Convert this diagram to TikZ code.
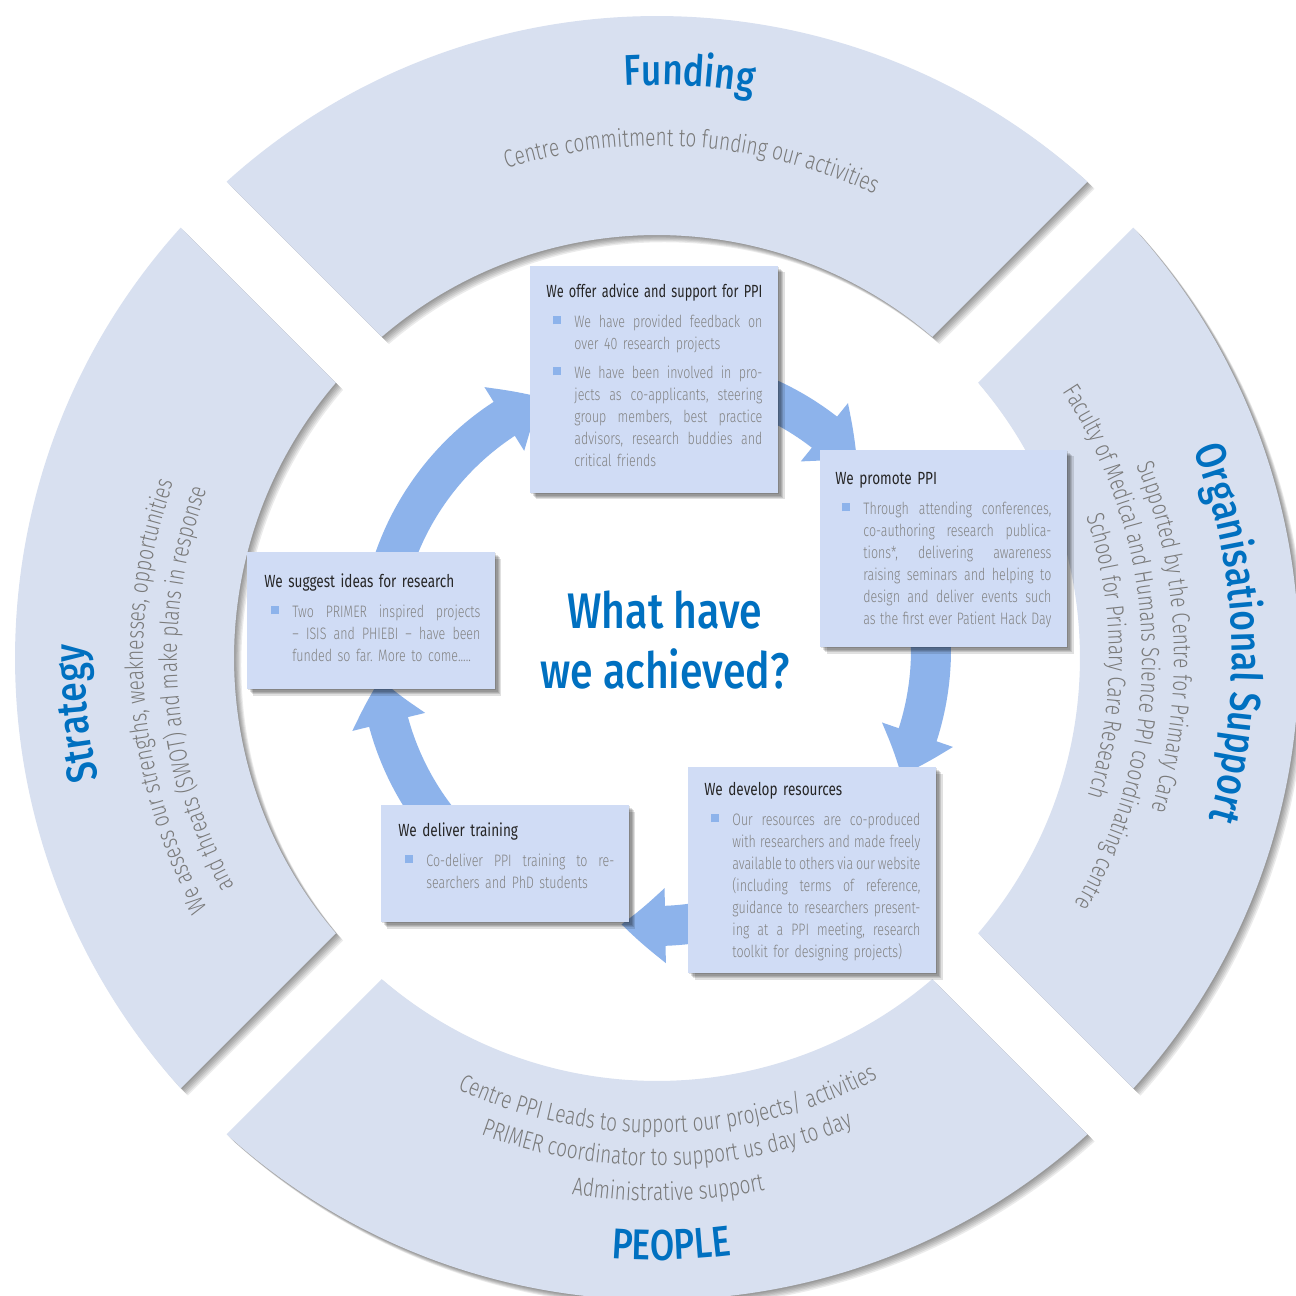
\documentclass[tikz,border=0pt]{standalone}
\usepackage{fontspec}
\usetikzlibrary{decorations.text,arrows.meta,bending,fit,calc}

\IfFontExistsTF{Fira Sans Light}{%
  \newfontfamily\lightf{Fira Sans Light}[FakeStretch=0.76]%
  \newfontfamily\bodyf{Fira Sans Light}[FakeStretch=0.75]%
}{%
  \newfontfamily\lightf{Fira Sans}[FakeStretch=0.76]%
  \newfontfamily\bodyf{Fira Sans}[FakeStretch=0.75]%
}
\IfFontExistsTF{Fira Sans Medium}{%
  \newfontfamily\titlef{Fira Sans Medium}[FakeStretch=0.82]%
}{%
  \newfontfamily\titlef{Fira Sans}[FakeStretch=0.82]%
}
\newfontfamily\headf{Fira Sans}[FakeStretch=0.77]

\definecolor{segc}{HTML}{D8E0F0}
\definecolor{boxc}{HTML}{D0DCF5}
\definecolor{arrc}{HTML}{8DB3EB}
\definecolor{titlec}{HTML}{0070C0}
\definecolor{subc}{HTML}{7A7A7A}
\definecolor{bodyc}{HTML}{828282}
\definecolor{headc}{HTML}{262626}

\newcommand\titlefs{\titlef\fontsize{21.5}{26}\selectfont}
\newcommand\subfs{\lightf\fontsize{12.5}{14}\selectfont}
\newcommand\headfs{\headf\fontsize{8.8}{11}\selectfont\color{headc}}
\newcommand\bodyfs{\bodyf\fontsize{8.3}{11}\selectfont\frenchspacing}
\newcommand\centerfs{\titlef\fontsize{25}{30}\selectfont}

\newcommand\J[1]{\hbox to 94pt{\spaceskip=0.22em plus 1fil minus 0.12em\relax #1}}
\newcommand\bul{\hspace*{3.5pt}\makebox[10.5pt][l]{\raisebox{1.5pt}{\textcolor{arrc}{\rule{4pt}{4pt}}}}}
\newcommand\ind{\hspace*{14pt}}
\newcommand\hd[1]{{\headfs\rule{0pt}{7pt}#1}}

\tikzset{
  segshape/.style={insert path={({#1-42.1}:642) arc[start angle={#1-42.1}, end angle={#1+42.1}, radius=642]
      -- ({#1+40.6}:423) arc[start angle={#1+40.6}, end angle={#1-40.6}, radius=423] -- cycle}},
  boxst/.style={fill=boxc, inner sep=0pt, draw=none},
  txtst/.style={inner sep=0pt, anchor=north west, text width=140pt, align=left, font=\bodyfs, text=bodyc},
  ringarrow/.style={line width=20pt, draw=arrc, -{Triangle[width=36pt,length=22pt,bend]}},
}

% #1 radius, #2 centre angle, #3 half span (positive: clockwise), #4 font, #5 colour, #6 text
\newcommand\arctext[6]{%
  \path[decorate, decoration={text along path, text={|#4|#6}, text align=center, text color=#5}]
    ({#2+(#3)}:#1) arc[start angle={#2+(#3)}, end angle={#2-(#3)}, radius=#1];
}

% #1 name, #2 left, #3 top, #4 right, #5 bottom
\newcommand\shadowbox[5]{%
  \foreach \k in {1,...,5}{\fill[black,opacity=0.12] ({#2+\k*1.3},{#5-\k*1.3}) rectangle ({#4+\k*1.3},{#3-\k*1.3});}
  \node[boxst, fit={(#2,#3) (#4,#5)}] (#1) {};
}

\begin{document}
\begin{tikzpicture}[x=0.5pt,y=0.5pt]
\useasboundingbox (-657,-638) rectangle (639,658);
\fill[white] (-657,-638) rectangle (639,658);

% ring segments
\foreach \a in {90,0,-90,180}{%
  \foreach \k in {1,...,6}{%
    \begin{scope}[shift={(\k*1.2,-\k*1.2)}]
      \fill[black,opacity=0.08,segshape=\a];
    \end{scope}}
  \fill[segc,segshape=\a];
}

% curved texts
\arctext{573}{86.8}{30}{\titlefs}{titlec}{Funding}
\arctext{512}{86}{45}{\subfs}{subc}{Centre commitment to funding our activities}
\arctext{575}{2.5}{45}{\titlefs}{titlec}{Organisational Support}
\arctext{517}{2.4}{45}{\subfs}{subc}{Supported by the Centre for Primary Care}
\arctext{485}{1.4}{50}{\subfs}{subc}{Faculty of Medical and Humans Science PPI coordinating centre}
\arctext{452}{0.3}{45}{\subfs}{subc}{School for Primary Care Research}
\arctext{475}{271.4}{-40}{\subfs}{subc}{Centre PPI Leads to support our projects/ activities}
\arctext{508}{271.2}{-40}{\subfs}{subc}{PRIMER coordinator to support us day to day}
\arctext{543}{271.2}{-30}{\subfs}{subc}{Administrative support}
\arctext{602}{271.4}{-20}{\titlefs}{titlec}{PEOPLE}
\arctext{572}{185.5}{30}{\titlefs}{titlec}{Strategy}
\arctext{514}{184.6}{45}{\subfs}{subc}{We assess our strengths, weaknesses, opportunities}
\arctext{480}{184}{45}{\subfs}{subc}{and threats (SWOT) and make plans in response}

% cycle arrows
\coordinate (RC) at (-2,8);
\draw[ringarrow] ($(RC)+(163:276)$) arc[start angle=163, end angle=114, radius=276];
\draw[ringarrow] ($(RC)+(66:276)$) arc[start angle=66, end angle=43, radius=276];
\draw[ringarrow] ($(RC)+(5:276)$) arc[start angle=5, end angle=-27, radius=276];
\draw[ringarrow] ($(RC)+(-80:276)$) arc[start angle=-80, end angle=-97, radius=276];
\draw[ringarrow] ($(RC)+(218:276)$) arc[start angle=218, end angle=186, radius=276];

% boxes
\shadowbox{b1}{-127}{392}{121}{165}
\shadowbox{b2}{163}{208}{410}{11}
\shadowbox{b3}{-410}{106}{-162}{-31}
\shadowbox{b4}{-276}{-147}{-28}{-264}
\shadowbox{b5}{31}{-109}{279}{-315}

\node[txtst] (t1) at (-111,375) {%
\scalebox{0.94}[1]{\hd{We offer advice and support for PPI}}\\[4pt]
\bul\J{We have provided feedback on}\\
\ind over 40 research projects\\[3.5pt]
\bul\J{We have been involved in pro-}\\
\ind\J{jects as co-applicants, steering}\\
\ind\J{group members, best practice}\\
\ind\J{advisors, research buddies and}\\
\ind critical friends};

\node[txtst] (t2) at (178,188) {%
\hd{We promote PPI}\\[4pt]
\bul\J{Through attending conferences,}\\
\ind\J{co-authoring research publica-}\\
\ind\J{tions*, delivering awareness}\\
\ind\J{raising seminars and helping to}\\
\ind\J{design and deliver events such}\\
\ind\J{as the first ever Patient Hack Day}};

\node[txtst] (t3) at (-393,85) {%
\hd{We suggest ideas for research}\\[4pt]
\bul\J{Two PRIMER inspired projects}\\
\ind\J{– ISIS and PHIEBI – have been}\\
\ind funded so far. More to come.....};

\node[txtst] (t4) at (-259,-164) {%
\hd{We deliver training}\\[4pt]
\bul\J{Co-deliver PPI training to re-}\\
\ind searchers and PhD students};

\node[txtst] (t5) at (47,-123) {%
\hd{We develop resources}\\[4pt]
\bul\J{Our resources are co-produced}\\
\ind\J{with researchers and made freely}\\
\ind\J{available to others via our website}\\
\ind\J{(including terms of reference,}\\
\ind\J{guidance to researchers present-}\\
\ind\J{ing at a PPI meeting, research}\\
\ind toolkit for designing projects)};

% centre title
\node[font=\centerfs, text=titlec, anchor=base, inner sep=0pt] (c1) at (8,30) {What have};
\node[font=\centerfs, text=titlec, anchor=base, inner sep=0pt] (c2) at (8,-30) {we achieved?};
\end{tikzpicture}
\end{document}
